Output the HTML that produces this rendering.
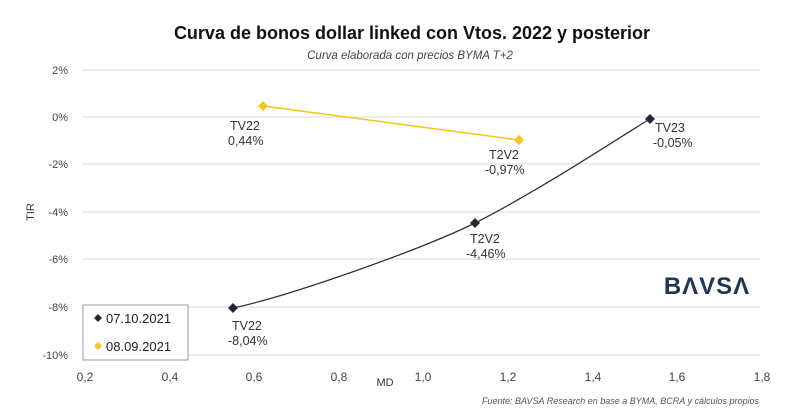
<!DOCTYPE html>
<html><head><meta charset="utf-8"><style>
body{margin:0;background:#fff;}
svg{display:block;font-family:"Liberation Sans",sans-serif;}
</style></head><body>
<svg width="800" height="416" viewBox="0 0 800 416">
<text x="412" y="39" text-anchor="middle" font-size="18" font-weight="bold" fill="#111">Curva de bonos dollar linked con Vtos. 2022 y posterior</text>
<text x="410" y="59" text-anchor="middle" font-size="11.5" font-style="italic" fill="#444">Curva elaborada con precios BYMA T+2</text>
<g stroke="#d9d9d9" stroke-width="1">
<line x1="82" x2="760" y1="70" y2="70"/><line x1="82" x2="760" y1="117" y2="117"/>
<line x1="82" x2="760" y1="164" y2="164"/><line x1="82" x2="760" y1="212" y2="212"/>
<line x1="82" x2="760" y1="259" y2="259"/><line x1="82" x2="760" y1="307" y2="307"/>
<line x1="82" x2="760" y1="355" y2="355"/>
</g>
<g font-size="11" fill="#444" text-anchor="end">
<text x="68" y="74">2%</text><text x="68" y="121">0%</text><text x="68" y="168">-2%</text>
<text x="68" y="216">-4%</text><text x="68" y="263">-6%</text><text x="68" y="311">-8%</text><text x="68" y="359">-10%</text>
</g>
<g font-size="12" fill="#444" text-anchor="middle">
<text x="85" y="381">0,2</text><text x="170" y="381">0,4</text><text x="254" y="381">0,6</text>
<text x="339" y="381">0,8</text><text x="423" y="381">1,0</text><text x="508" y="381">1,2</text>
<text x="593" y="381">1,4</text><text x="677" y="381">1,6</text><text x="762" y="381">1,8</text>
</g>
<text x="385" y="386" font-size="11" fill="#333" text-anchor="middle">MD</text>
<text x="34" y="212" font-size="11" fill="#333" text-anchor="middle" transform="rotate(-90 34 212)">TIR</text>
<path d="M233,308 C290,296 420,250 475,223 C544,188 621,136 650,119" fill="none" stroke="#333" stroke-width="1.3"/>
<line x1="263" y1="106" x2="519" y2="140" stroke="#f5c518" stroke-width="1.5"/>
<g fill="#1f2a38">
<path d="M233,303 l5,5 -5,5 -5,-5z"/><path d="M475,218 l5,5 -5,5 -5,-5z"/><path d="M650,114 l5,5 -5,5 -5,-5z"/>
</g>
<g fill="#f5c518">
<path d="M263,101 l5,5 -5,5 -5,-5z"/><path d="M519,135 l5,5 -5,5 -5,-5z"/>
</g>
<g font-size="12.5" fill="#333">
<text x="230" y="130">TV22</text><text x="228" y="145">0,44%</text>
<text x="489" y="159">T2V2</text><text x="485" y="174">-0,97%</text>
<text x="655" y="132">TV23</text><text x="653" y="147">-0,05%</text>
<text x="470" y="243">T2V2</text><text x="466" y="258">-4,46%</text>
<text x="232" y="330">TV22</text><text x="228" y="345">-8,04%</text>
</g>
<text x="707" y="294" font-size="24" font-weight="bold" fill="#1f3556" text-anchor="middle" letter-spacing="1">B&#923;VS&#923;</text>
<rect x="83" y="305" width="105" height="55" fill="#fff" stroke="#999"/>
<path d="M98,314 l4,4 -4,4 -4,-4z" fill="#1f2a38"/>
<text x="106" y="323" font-size="13" fill="#222">07.10.2021</text>
<path d="M98,342 l4,4 -4,4 -4,-4z" fill="#f5c518"/>
<text x="106" y="351" font-size="13" fill="#222">08.09.2021</text>
<text x="759" y="404" font-size="9" font-style="italic" fill="#555" text-anchor="end">Fuente: BAVSA Research en base a BYMA, BCRA y cálculos propios</text>
</svg>
</body></html>
